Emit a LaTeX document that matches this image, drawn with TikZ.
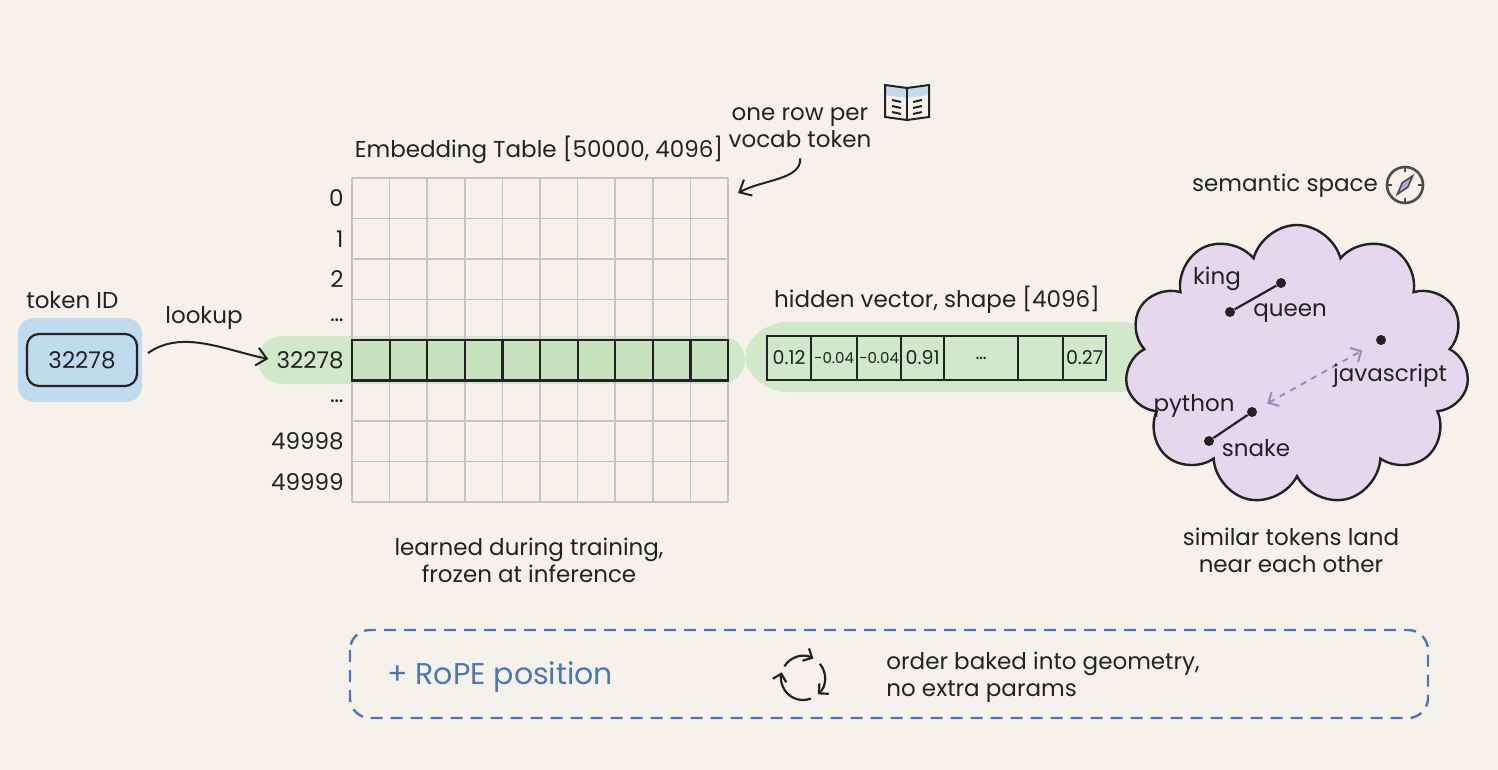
\documentclass[tikz,border=0pt]{standalone}
\usepackage{fontspec}
\setmainfont{Poppins}
\usetikzlibrary{positioning,calc,arrows.meta,shapes.symbols}
\definecolor{paper}{RGB}{245,242,235}
\definecolor{rowgreen}{RGB}{210,232,202}
\definecolor{cellgreen}{RGB}{198,227,190}
\definecolor{tokblue}{RGB}{192,218,238}
\definecolor{spacepurple}{RGB}{228,215,238}
\definecolor{needle}{RGB}{182,168,222}
\definecolor{ropeblue}{RGB}{78,118,180}
\definecolor{gridgray}{RGB}{196,196,194}
\definecolor{linkgray}{RGB}{150,140,182}
\definecolor{ink}{RGB}{34,34,34}
\tikzset{
  txt/.style={font=\fontsize{11.5}{13.5}\selectfont, text=ink, inner sep=1pt},
  dot/.style={circle, fill=ink, inner sep=0pt, minimum size=5pt},
  barb/.style={-{Straight Barb[length=5pt,width=9pt]}, line width=1pt, draw=ink},
  cellbox/.style={draw=ink, line width=1.1pt, inner sep=0pt, minimum height=22pt, anchor=west},
}
\begin{document}
\begin{tikzpicture}[x=0.5pt,y=-0.5pt]
  \fill[paper] (0,0) rectangle (1498,770);
  \useasboundingbox (0,0) rectangle (1498,770);
  \fill[tokblue, rounded corners=8pt] (18,318) rectangle (142,402);
  \fill[rowgreen, rounded corners=12pt] (258,336) rectangle (745,384);
  \fill[rowgreen, rounded corners=10pt] (738,357) -- (766,322) -- (1145,322) -- (1145,392) -- (766,392) -- cycle;
  \node[txt] (title) at (539,150) {Embedding Table [50000, 4096]};
  \fill[cellgreen] (352,340) rectangle (728,380.5);
  \foreach \i in {0,...,10}
    \draw[gridgray, line width=0.8pt] ({352+37.6*\i},178) -- ({352+37.6*\i},502);
  \foreach \j in {0,...,8}
    \draw[gridgray, line width=0.8pt] (352,{178+40.5*\j}) -- (728,{178+40.5*\j});
  \foreach \i in {0,...,9}
    \draw[ink, line width=1.1pt] ({352+37.6*\i},340) rectangle ({352+37.6*(\i+1)},380.5);
  \foreach \lab [count=\j from 0] in {0,1,2,\dots,32278,\dots,49998,49999}
    \node[txt, anchor=east] (r\j) at (346,{198.25+40.5*\j}) {\lab};
  \node[txt, anchor=west] (tokid) at (24,300) {token ID};
  \node[txt, draw=ink, line width=1.1pt, rounded corners=6pt, minimum width=55pt, minimum height=26pt] (tok) at (82,360) {32278};
  \node[txt] (lookup) at (204,318) {lookup};
  \draw[barb, shorten <=6pt, shorten >=3pt] (tok.east) to[out=35,in=168] (r4.west);
  \node[txt, align=center] (note) at (800,128) {one row per\\vocab token};
  \coordinate (corner) at (738,193);
  \draw[barb, shorten <=4pt] (note.south) to[out=-88,in=28] (corner);
  \begin{scope}[shift={(907,102)}, line width=1pt, ink]
    \fill[tokblue] (-22,-17) -- (0,-14) -- (22,-17) -- (22,-7) -- (0,-4) -- (-22,-7) -- cycle;
    \draw (-22,-17) -- (0,-14) -- (22,-17) -- (22,15) -- (0,18) -- (-22,15) -- cycle;
    \draw (0,-14) -- (0,18);
    \foreach \y in {0,6,12} {
      \draw (-15,\y-2) -- (-6,\y);
      \draw (6,\y) -- (15,\y-2);
    }
  \end{scope}
  \node[txt] (vectitle) at (937,300) {hidden vector, shape [4096]};
  \foreach \a/\b/\v/\s [count=\k] in {766/810/0.12/9.5,810/856/-0.04/7.5,856/900/-0.04/7.5,900/943/0.91/9.5,943/1017/\dots/9.5,1017/1062/{}/9.5,1062/1105/0.27/9.5}
    \node[cellbox, minimum width={(\b-\a)*0.5pt}, font=\fontsize{\s}{10}\selectfont, text=ink] (v\k) at (\a,358) {\v};
  \node[cloud, cloud puffs=11, aspect=1.2, draw=ink, line width=1.2pt, fill=spacepurple, minimum width=172pt, minimum height=140pt] (space) at (1297,365) {};
  \node[txt] (semantic) at (1285,186) {semantic space};
  \begin{scope}[shift={(1405,185)}, ink]
    \draw[line width=1.3pt, black!70] (0,0) circle (9pt);
    \foreach \a in {0,90,180,270}
      \draw[line width=1pt, black!70] (\a:13) -- (\a:18);
    \filldraw[fill=needle, draw=black!70, line width=0.8pt] (-50:12) -- (40:3.5) -- (130:12) -- (220:3.5) -- cycle;
  \end{scope}
  \node[dot] (king) at (1281,283) {};
  \node[dot] (queen) at (1230,312) {};
  \node[dot] (js) at (1381,340) {};
  \node[dot] (python) at (1252,412) {};
  \node[dot] (snake) at (1209,441) {};
  \draw[ink, line width=1.1pt] (king) -- (queen);
  \draw[ink, line width=1.1pt] (python) -- (snake);
  \draw[linkgray, dashed, line width=1pt, {Straight Barb[length=4pt,width=8pt]}-{Straight Barb[length=4pt,width=8pt]}, shorten <=6pt, shorten >=8pt] (python) -- (js);
  \node[txt] (kinglab) at (1217,279) {king};
  \node[txt] (queenlab) at (1290,313) {queen};
  \node[txt] (jslab) at (1390,376) {javascript};
  \node[txt] (pythonlab) at (1194,406) {python};
  \node[txt] (snakelab) at (1256,448) {snake};
  \node[txt, align=center] (learned) at (529,560) {learned during training,\\frozen at inference};
  \node[txt, align=center] (similar) at (1291,550) {similar tokens land\\near each other};
  \draw[ropeblue, line width=1.2pt, dash pattern=on 6pt off 4pt, rounded corners=10pt] (350,630) rectangle (1428,718);
  \node[font=\fontsize{15}{17}\selectfont, text=ropeblue, anchor=west] (rope) at (380,677) {+ RoPE position};
  \foreach \s/\e in {-148/-62,-40/48,69/195}
    \draw[ink, line width=1.1pt, -{Straight Barb[length=3.5pt,width=7pt]}] ([shift={(\s:22)}]803,678) arc[start angle=\s, end angle=\e, radius=22];
  \node[txt, align=left, anchor=west] (order) at (884,677) {order baked into geometry,\\no extra params};
\end{tikzpicture}
\end{document}
